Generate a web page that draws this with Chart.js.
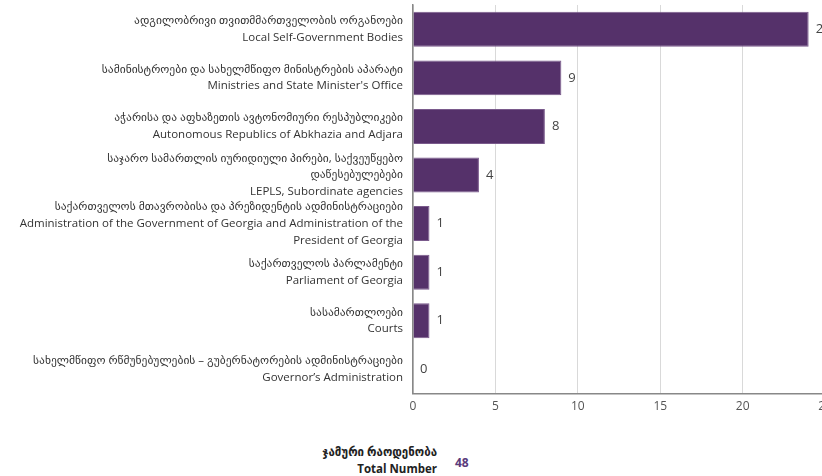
<!DOCTYPE html>
<html>
<head>
<meta charset="utf-8">
<script src="https://cdn.jsdelivr.net/npm/chart.js@4"></script>
<style>
  html, body { margin: 0; padding: 0; background: #fff; overflow: hidden; width: 822px; height: 476px; }
  #wrap { position: absolute; left: 0; top: 0; width: 838px; height: 420px; }
  .total { position: absolute; font-family: "Open Sans", "DejaVu Sans", sans-serif; font-weight: 700; color: #222; font-size: 11.5px; text-align: right; }
  #totalVal { position: absolute; left: 455px; top: 454px; font-family: "Open Sans", sans-serif; font-weight: 700; font-size: 12px; color: #5b3b7c; }
</style>
</head>
<body>
<div id="wrap"><canvas id="chart"></canvas></div>
<div class="total" style="right: 385px; top: 443px; line-height: 17px;">ჯამური რაოდენობა<br>Total Number</div>
<div id="totalVal"></div>

<script>
// data
const categories = [
    ['ადგილობრივი თვითმმართველობის ორგანოები', 'Local Self-Government Bodies'],
    ['სამინისტროები და სახელმწიფო მინისტრების აპარატი', "Ministries and State Minister's Office"],
    ['აჭარისა და აფხაზეთის ავტონომიური რესპუბლიკები', 'Autonomous Republics of Abkhazia and Adjara'],
    ['საჯარო სამართლის იურიდიული პირები, საქვეუწყებო', 'დაწესებულებები', 'LEPLS, Subordinate agencies'],
    ['საქართველოს მთავრობისა და პრეზიდენტის ადმინისტრაციები', 'Administration of the Government of Georgia and Administration of the', 'President of Georgia'],
    ['საქართველოს პარლამენტი', 'Parliament of Georgia'],
    ['სასამართლოები', 'Courts'],
    ['სახელმწიფო რწმუნებულების – გუბერნატორების ადმინისტრაციები', 'Governor’s Administration']
];
const counts = [24, 9, 8, 4, 1, 1, 1, 0];
const xTicks = [0, 5, 10, 15, 20, 25];
const totalNumber = 48;

document.getElementById('totalVal').textContent = totalNumber;

// value labels at the end of each bar
const valueLabels = {
    id: 'valueLabels',
    afterDatasetsDraw(chart) {
        const ctx = chart.ctx;
        const meta = chart.getDatasetMeta(0);
        ctx.save();
        ctx.font = '13px "Open Sans", sans-serif';
        ctx.fillStyle = '#444';
        ctx.textBaseline = 'middle';
        meta.data.forEach(function(bar, i) {
            ctx.fillText(String(counts[i]), bar.x + 7, bar.y);
        });
        ctx.restore();
    }
};

new Chart(document.getElementById('chart'), {
    type: 'bar',
    data: {
        labels: categories,
        datasets: [{
            data: counts,
            backgroundColor: '#55316a',
            borderColor: '#7a5a8c',
            borderWidth: 1,
            barPercentage: 0.72,
            categoryPercentage: 1
        }]
    },
    options: {
        indexAxis: 'y',
        responsive: true,
        maintainAspectRatio: false,
        animation: false,
        layout: { padding: { top: 5, right: 0 } },
        plugins: { legend: { display: false }, tooltip: { enabled: false } },
        scales: {
            x: {
                min: 0,
                max: 25,
                afterBuildTicks(scale) { scale.ticks = xTicks.map(v => ({ value: v })); },
                grid: { color: '#d9d9d9', drawTicks: false },
                border: { color: '#888', width: 1.5 },
                ticks: { color: '#555', font: { size: 12, family: 'Open Sans' }, padding: 6 }
            },
            y: {
                afterFit(scale) {
                    scale.width = 413;
                    scale.paddingTop = 0;
                    scale.paddingBottom = 0;
                },
                grid: { display: false, drawTicks: false },
                border: { color: '#888', width: 1.5 },
                ticks: {
                    autoSkip: false,
                    color: '#333',
                    padding: 10,
                    font: { size: 11.5, family: '"Open Sans", "DejaVu Sans", sans-serif', lineHeight: 1.45 }
                }
            }
        }
    },
    plugins: [valueLabels]
});
</script>
</body>
</html>
